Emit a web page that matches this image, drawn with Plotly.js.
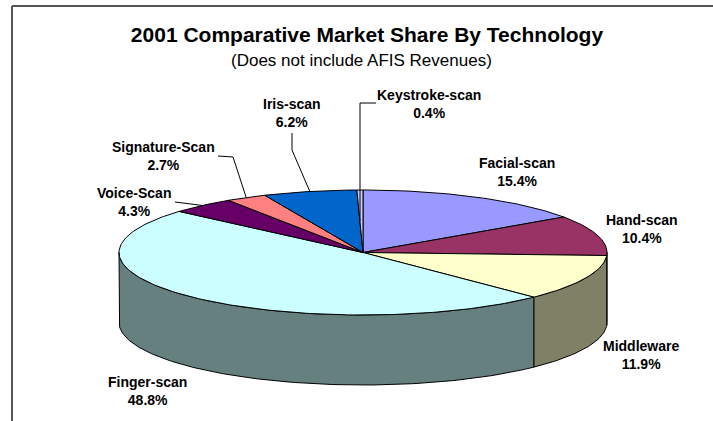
<!DOCTYPE html>
<html>
<head>
<meta charset="utf-8">
<script src="https://cdn.plot.ly/plotly-3.0.1.min.js"></script>
<style>html,body{margin:0;padding:0;background:#fff;}#chart{width:713px;height:421px;}</style>
</head>
<body>
<div id="chart"></div>
<script>
// ---- data ----
const categories = ['Facial-scan','Hand-scan','Middleware','Finger-scan','Voice-Scan','Signature-Scan','Iris-scan','Keystroke-scan'];
const shares = [15.4, 10.4, 11.9, 48.8, 4.3, 2.7, 6.2, 0.4];
const sliceColors = ['#9999FF','#993366','#FFFFCC','#CCFFFF','#660066','#FF8080','#0066CC','#CCCCFF'];
const chartTitle = '2001 Comparative Market Share By Technology';
const chartSubtitle = '(Does not include AFIS Revenues)';

// ---- layout of the drawing (pixel-space axes) ----
const W = 713, H = 421;
const geo = {cx: 363, cy: 252.5, rx: 244, ry: 62.5, depth: 70};
// label centres (layout only)
const labelPos = [[517,172],[642,229],[641,355],[147,391],[134,202],[163,155.5],[292,113],[429,104]];
// leader lines: label-side points, then end on slice at mid angle * fraction of radius
const leaders = [
  {i: 7, pts: [[376,103],[360,103]], frac: 0.5, vertical: true},
  {i: 6, pts: [[292,133],[292,150]], frac: 1.0},
  {i: 5, pts: [[218,156],[233,157]], frac: 1.0},
  {i: 4, pts: [[175,202]], frac: 1.0}
];

function darken(hex, f){
  const n = parseInt(hex.slice(1),16);
  const r = Math.round(((n>>16)&255)*f), g = Math.round(((n>>8)&255)*f), b = Math.round((n&255)*f);
  return 'rgb('+r+','+g+','+b+')';
}
const rad = d => d*Math.PI/180;
function pt(theta, frac, dy){
  return [geo.cx + geo.rx*frac*Math.cos(rad(theta)), geo.cy - geo.ry*frac*Math.sin(rad(theta)) + (dy||0)];
}
function arc(a0, a1, dy){
  const n = Math.max(2, Math.ceil(Math.abs(a0-a1)/1));
  const out = [];
  for(let k=0;k<=n;k++){ out.push(pt(a0 + (a1-a0)*k/n, 1, dy)); }
  return out;
}

const total = shares.reduce((a,b)=>a+b,0);
const angles = [];
let start = 90;
shares.forEach(v => { const end = start - 360*v/total; angles.push([start,end]); start = end; });

const walls = [], tops = [];
angles.forEach(([a0,a1], i) => {
  const hi = Math.min(a0, 0), lo = Math.max(a1, -180);
  if (hi > lo) {
    const topArc = arc(hi, lo, 0);
    const botArc = arc(lo, hi, geo.depth);
    const p = topArc.concat(botArc); p.push(topArc[0]);
    walls.push({type:'scatter', mode:'lines', x:p.map(q=>q[0]), y:p.map(q=>q[1]), fill:'toself',
      fillcolor: darken(sliceColors[i], 0.5), line:{color:'#000', width:1}, hoverinfo:'skip', showlegend:false});
  }
  const p = [[geo.cx, geo.cy]].concat(arc(a0, a1, 0)); p.push([geo.cx, geo.cy]);
  tops.push({type:'scatter', mode:'lines', x:p.map(q=>q[0]), y:p.map(q=>q[1]), fill:'toself',
    fillcolor: sliceColors[i], line:{color:'#000', width:1}, hoverinfo:'skip', showlegend:false, name: categories[i]});
});

const annotations = categories.map((c,i) => ({
  x: labelPos[i][0], y: labelPos[i][1], xref:'x', yref:'y', xanchor:'center', yanchor:'middle',
  text: '<b>'+c+'</b><br><b>'+shares[i].toFixed(1)+'%</b>', showarrow:false, align:'center',
  font:{family:'Arial, Liberation Sans, sans-serif', size:14, color:'#000'}
}));
annotations.push({x: 361, y: 60, xref:'x', yref:'y', xanchor:'center', yanchor:'middle', showarrow:false,
  text: chartSubtitle, font:{family:'Arial, Liberation Sans, sans-serif', size:17, color:'#000'}});

const shapes = [
  {type:'line', xref:'x', yref:'y', x0:12, y0:6, x1:12, y1:H, line:{color:'#555', width:2}},
  {type:'line', xref:'x', yref:'y', x0:12, y0:6, x1:W, y1:6, line:{color:'#555', width:2}}
];
leaders.forEach(L => {
  const [a0,a1] = angles[L.i];
  let end = pt((a0+a1)/2, L.frac, 0);
  const pts = L.pts.slice();
  if (L.vertical) end = [pts[pts.length-1][0], end[1]];
  pts.push(end);
  const path = pts.map((q,k)=>(k?'L':'M')+q[0]+','+q[1]).join(' ');
  shapes.push({type:'path', xref:'x', yref:'y', path, line:{color:'#000', width:1}});
});

const layout = {
  width: W, height: H, margin:{l:0,r:0,t:0,b:0},
  paper_bgcolor:'#fff', plot_bgcolor:'#fff',
  xaxis:{range:[0,W], visible:false, fixedrange:true},
  yaxis:{range:[H,0], visible:false, fixedrange:true},
  title:{text:'<b>'+chartTitle+'</b>', x:367/W, xanchor:'center', xref:'container', y:1-35/H, yref:'container', yanchor:'middle',
    font:{family:'Arial, Liberation Sans, sans-serif', size:21, color:'#000'}},
  annotations, shapes, showlegend:false
};
Plotly.newPlot('chart', walls.concat(tops), layout, {displayModeBar:false, staticPlot:true});
</script>
</body>
</html>
